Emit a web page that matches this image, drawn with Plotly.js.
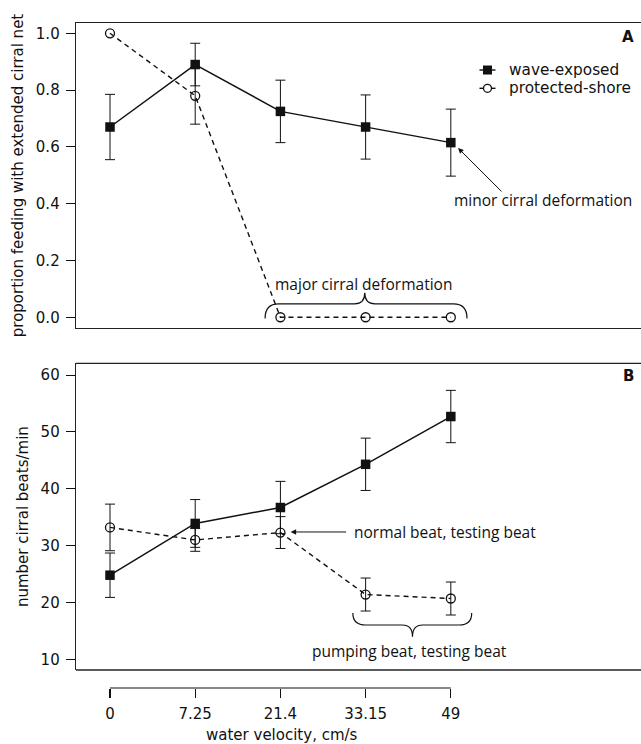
<!DOCTYPE html>
<html><head><meta charset="utf-8">
<script src="https://cdn.plot.ly/plotly-3.0.1.min.js"></script>
<style>html,body{margin:0;padding:0;background:#fff}</style>
</head><body><div id="chart" style="width:641px;height:744px"></div>
<script>
// ---- data ----
const velocityLabels = ['0', '7.25', '21.4', '33.15', '49'];
const propWave = [0.67, 0.89, 0.725, 0.67, 0.615];
const propWaveErr = [0.115, 0.075, 0.11, 0.113, 0.118];
const propProtected = [1.0, 0.78, 0.0, 0.0, 0.0];
const propProtectedErr = [NaN, 0.10, NaN, NaN, NaN];
const beatsWave = [24.8, 33.9, 36.7, 44.3, 52.7];
const beatsWaveErr = [3.9, 4.2, 4.6, 4.6, 4.6];
const beatsProtected = [33.2, 31.0, 32.3, 21.4, 20.7];
const beatsProtectedErr = [4.1, 2.0, 2.8, 2.9, 2.9];
const propTicks = [0, 0.2, 0.4, 0.6, 0.8, 1.0];
const beatTicks = [10, 20, 30, 40, 50, 60];
const seriesNames = ['wave-exposed', 'protected-shore'];

const xIdx = velocityLabels.map((_, i) => i);
const INK = '#111';
const FAM = 'DejaVu Sans, Arial, sans-serif';
const axFont = {family: FAM, size: 15, color: INK};
const annFont = {family: 'Open Sans, sans-serif', size: 15.5, color: INK};

function errObj(arr) {
  return {type: 'data', array: arr, visible: true, color: INK, thickness: 1, width: 5};
}
const protLine = {color: INK, width: 1.4, dash: '5px,4px'};
const waveLine = {color: INK, width: 1.5};
const circ = {symbol: 'circle-open', size: 9, color: INK, line: {width: 1.3, color: INK}};
const sq = {symbol: 'square', size: 9.5, color: INK};

const traces = [
  {x: xIdx, y: propProtected, error_y: errObj(propProtectedErr), mode: 'lines+markers',
   line: protLine, marker: circ, xaxis: 'x', yaxis: 'y', name: seriesNames[1], cliponaxis: false},
  {x: xIdx, y: propWave, error_y: errObj(propWaveErr), mode: 'lines+markers',
   line: waveLine, marker: sq, xaxis: 'x', yaxis: 'y', name: seriesNames[0], cliponaxis: false},
  {x: xIdx, y: beatsProtected, error_y: errObj(beatsProtectedErr), mode: 'lines+markers',
   line: protLine, marker: circ, xaxis: 'x2', yaxis: 'y2', name: seriesNames[1], cliponaxis: false},
  {x: xIdx, y: beatsWave, error_y: errObj(beatsWaveErr), mode: 'lines+markers',
   line: waveLine, marker: sq, xaxis: 'x2', yaxis: 'y2', name: seriesNames[0], cliponaxis: false}
];

const xr = [-0.399, 6.232];
const lineCol = '#222';

function txt(xref, yref, x, y, text, font, xanchor) {
  return {xref: xref, yref: yref, x: x, y: y, text: text, showarrow: false, font: font,
          xanchor: xanchor || 'center', yanchor: 'middle'};
}

const layout = {
  width: 641, height: 744,
  margin: {l: 76, r: 0, t: 23, b: 56},
  paper_bgcolor: '#fff', plot_bgcolor: '#fff',
  showlegend: false,
  xaxis: {domain: [0, 1], range: xr, anchor: 'y', showline: true, mirror: true, linecolor: lineCol, linewidth: 1.3,
          showgrid: false, zeroline: false, ticks: '', showticklabels: false},
  yaxis: {domain: [0.5414, 1], range: [-0.0377, 1.0363], anchor: 'x', showline: true, linecolor: lineCol, linewidth: 1.3,
          showgrid: false, zeroline: false, ticks: 'outside', ticklen: 9, tickcolor: INK, tickwidth: 1,
          tickvals: propTicks, tickformat: '.1f', tickfont: axFont, ticklabelstandoff: 3,
          title: {text: 'proportion feeding with extended cirral net', font: {family: FAM, size: 15, color: INK}, standoff: 8}},
  xaxis2: {domain: [0, 1], range: xr, anchor: 'free', position: 0, showline: false, showgrid: false, zeroline: false,
           ticks: 'outside', ticklen: 9, tickcolor: INK, tickwidth: 1.2, ticklabelstandoff: 3,
           tickvals: xIdx, ticktext: velocityLabels, tickfont: axFont},
  yaxis2: {domain: [0.02707, 0.48827], range: [8.13, 62.06], anchor: 'x2', showline: true, linecolor: lineCol, linewidth: 1.3,
           showgrid: false, zeroline: false, ticks: 'outside', ticklen: 9, tickcolor: INK, tickwidth: 1,
           tickvals: beatTicks, tickfont: axFont, ticklabelstandoff: 3,
           title: {text: 'number cirral beats/min', font: {family: FAM, size: 15, color: INK}, standoff: 8}},
  shapes: [
    {type: 'line', xref: 'paper', yref: 'y2 domain', x0: 0, x1: 1, y0: 0, y1: 0, line: {color: lineCol, width: 1.3}},
    {type: 'line', xref: 'paper', yref: 'y2 domain', x0: 0, x1: 1, y0: 1, y1: 1, line: {color: lineCol, width: 1.3}},
    {type: 'line', xref: 'x2', yref: 'paper', x0: xIdx[0], x1: xIdx[xIdx.length - 1], y0: 0, y1: 0, line: {color: INK, width: 1.2}},
    {type: 'path', xref: 'x', yref: 'y', line: {color: INK, width: 1.2},
     path: 'M 1.82,-0.004 Q 1.82,0.047 1.98,0.047 L 2.87,0.047 Q 2.99,0.047 2.99,0.086 Q 2.99,0.047 3.11,0.047 L 4.03,0.047 Q 4.19,0.047 4.19,-0.004'},
    {type: 'path', xref: 'x2', yref: 'y2', line: {color: INK, width: 1.2},
     path: 'M 2.85,18.15 Q 2.85,16.04 3.0,16.04 L 3.43,16.04 Q 3.55,16.04 3.55,13.98 Q 3.55,16.04 3.67,16.04 L 4.10,16.04 Q 4.245,16.04 4.245,18.15'},
    {type: 'line', xref: 'paper', yref: 'paper', xsizemode: 'pixel', xanchor: 0.7283, x0: -8, x1: 8, y0: 0.9293, y1: 0.9293, line: {color: INK, width: 1.4}},
    {type: 'rect', xref: 'paper', yref: 'paper', xsizemode: 'pixel', ysizemode: 'pixel', xanchor: 0.7283, yanchor: 0.9293,
     x0: -4.5, x1: 4.5, y0: -4.5, y1: 4.5, fillcolor: INK, line: {width: 0}},
    {type: 'line', xref: 'paper', yref: 'paper', xsizemode: 'pixel', xanchor: 0.7283, x0: -8, x1: 8, y0: 0.9018, y1: 0.9018, line: {color: INK, width: 1.4}},
    {type: 'circle', xref: 'paper', yref: 'paper', xsizemode: 'pixel', ysizemode: 'pixel', xanchor: 0.7283, yanchor: 0.9018,
     x0: -4, x1: 4, y0: -4, y1: 4, fillcolor: '#fff', line: {color: INK, width: 1.3}}
  ],
  annotations: [
    txt('x', 'y', 2.97, 0.117, 'major cirral deformation', annFont),
    txt('x', 'y', 5.08, 0.413, 'minor cirral deformation', annFont),
    {xref: 'x', yref: 'y', x: 4.085, y: 0.596, text: '', showarrow: true, ax: 45, ay: 45,
     arrowhead: 2, arrowsize: 1.1, arrowwidth: 1, arrowcolor: INK, standoff: 0},
    txt('x2', 'y2', 2.837, 32.4, 'normal beat, testing beat', annFont, 'left'),
    {xref: 'x2', yref: 'y2', x: 2.12, y: 32.4, text: '', showarrow: true, ax: 57, ay: 0,
     arrowhead: 2, arrowsize: 1.1, arrowwidth: 1, arrowcolor: INK, standoff: 0},
    txt('x2', 'y2', 3.52, 11.52, 'pumping beat, testing beat', annFont),
    txt('paper', 'paper', 0.977, 0.9794, '<b>A</b>', {family: FAM, size: 15, color: INK}),
    txt('paper', 'paper', 0.977, 0.4696, '<b>B</b>', {family: FAM, size: 15, color: INK}),
    txt('paper', 'paper', 0.7628, 0.9293, seriesNames[0], {family: FAM, size: 15.3, color: INK}, 'left'),
    txt('paper', 'paper', 0.7628, 0.9018, seriesNames[1], {family: FAM, size: 15.3, color: INK}, 'left'),
    txt('paper', 'paper', 0.3646, -0.0707, 'water velocity, cm/s', {family: FAM, size: 15, color: INK})
  ]
};

Plotly.newPlot('chart', traces, layout, {displayModeBar: false, staticPlot: true});
</script>
</body></html>
